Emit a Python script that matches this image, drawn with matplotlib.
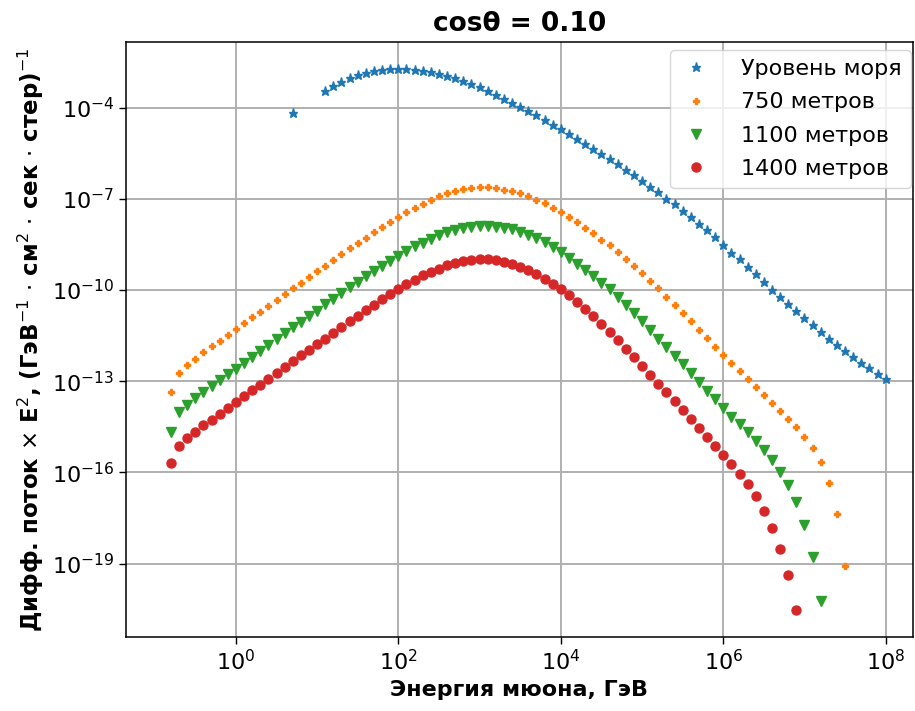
import numpy as np
import matplotlib
matplotlib.use("Agg")
import matplotlib.pyplot as plt
from matplotlib.ticker import NullLocator

# ---- data (log10 of energy in GeV, log10 of differential flux x E^2) ----
labels = ["Уровень моря", "750 метров", "1100 метров", "1400 метров"]

e_log_sea = [0.7,
             1.1, 1.2, 1.3, 1.4, 1.5, 1.6, 1.7, 1.8, 1.9,
             2.0, 2.1, 2.2, 2.3, 2.4, 2.5, 2.6, 2.7, 2.8, 2.9,
             3.0, 3.1, 3.2, 3.3, 3.4, 3.5, 3.6, 3.7, 3.8, 3.9,
             4.0, 4.1, 4.2, 4.3, 4.4, 4.5, 4.6, 4.7, 4.8, 4.9,
             5.0, 5.1, 5.2, 5.3, 5.4, 5.5, 5.6, 5.7, 5.8, 5.9,
             6.0, 6.1, 6.2, 6.3, 6.4, 6.5, 6.6, 6.7, 6.8, 6.9,
             7.0, 7.1, 7.2, 7.3, 7.4, 7.5, 7.6, 7.7, 7.8, 7.9,
             8.0]

e_log_deep = [-0.8, -0.7, -0.6, -0.5, -0.4, -0.3, -0.2, -0.1,
              0.0, 0.1, 0.2, 0.3, 0.4, 0.5, 0.6, 0.7, 0.8, 0.9,
              1.0, 1.1, 1.2, 1.3, 1.4, 1.5, 1.6, 1.7, 1.8, 1.9,
              2.0, 2.1, 2.2, 2.3, 2.4, 2.5, 2.6, 2.7, 2.8, 2.9,
              3.0, 3.1, 3.2, 3.3, 3.4, 3.5, 3.6, 3.7, 3.8, 3.9,
              4.0, 4.1, 4.2, 4.3, 4.4, 4.5, 4.6, 4.7, 4.8, 4.9,
              5.0, 5.1, 5.2, 5.3, 5.4, 5.5, 5.6, 5.7, 5.8, 5.9,
              6.0, 6.1, 6.2, 6.3, 6.4, 6.5, 6.6, 6.7, 6.8, 6.9,
              7.0, 7.1, 7.2, 7.3, 7.4, 7.5]

f_log_sea = [-4.18,
             -3.45, -3.28, -3.16, -3.03, -2.93, -2.86, -2.79, -2.76, -2.73,
             -2.72, -2.73, -2.76, -2.79, -2.84, -2.90, -2.96, -3.04, -3.14, -3.23,
             -3.34, -3.46, -3.58, -3.71, -3.85, -3.98, -4.12, -4.26, -4.41, -4.57,
             -4.71, -4.87, -5.03, -5.19, -5.36, -5.53, -5.69, -5.87, -6.05, -6.23,
             -6.42, -6.61, -6.79, -7.00, -7.18, -7.39, -7.60, -7.83, -8.04, -8.27,
             -8.52, -8.78, -8.99, -9.24, -9.49, -9.74, -9.99, -10.22, -10.46, -10.70,
             -10.93, -11.16, -11.39, -11.61, -11.82, -12.02, -12.21, -12.40, -12.58, -12.77,
             -12.94]

f_log_750 = [-13.36, -12.72, -12.48, -12.27, -12.05, -11.85, -11.67, -11.47,
             -11.27, -11.09, -10.90, -10.71, -10.53, -10.33, -10.13, -9.94, -9.76, -9.57,
             -9.38, -9.20, -9.00, -8.83, -8.63, -8.45, -8.28, -8.10, -7.93, -7.75,
             -7.59, -7.44, -7.29, -7.17, -7.04, -6.91, -6.82, -6.74, -6.69, -6.64,
             -6.62, -6.62, -6.64, -6.70, -6.74, -6.82, -6.92, -7.03, -7.15, -7.29,
             -7.45, -7.60, -7.76, -7.95, -8.13, -8.34, -8.53, -8.74, -8.98, -9.20,
             -9.45, -9.70, -9.94, -10.22, -10.48, -10.76, -11.03, -11.31, -11.59, -11.86,
             -12.14, -12.41, -12.67, -12.94, -13.20, -13.46, -13.71, -13.97, -14.23, -14.50,
             -14.83, -15.19, -15.66, -16.33, -17.37, -19.07]

f_log_1100 = [-14.66, -14.02, -13.78, -13.55, -13.35, -13.16, -12.96, -12.76,
              -12.59, -12.39, -12.20, -12.01, -11.82, -11.62, -11.43, -11.23, -11.05, -10.86,
              -10.68, -10.47, -10.29, -10.11, -9.91, -9.75, -9.55, -9.38, -9.20, -9.06,
              -8.87, -8.73, -8.56, -8.44, -8.32, -8.20, -8.10, -8.03, -7.96, -7.92,
              -7.89, -7.88, -7.92, -7.95, -7.99, -8.08, -8.19, -8.30, -8.43, -8.59,
              -8.76, -8.94, -9.13, -9.33, -9.54, -9.76, -9.98, -10.24, -10.50, -10.76,
              -11.03, -11.32, -11.60, -11.88, -12.16, -12.44, -12.73, -13.03, -13.31, -13.60,
              -13.87, -14.16, -14.42, -14.68, -14.96, -15.27, -15.59, -15.99, -16.41, -16.98,
              -17.72, -18.77, -20.21]

f_log_1400 = [-15.68, -15.14, -14.87, -14.66, -14.45, -14.27, -14.08, -13.88,
              -13.68, -13.50, -13.30, -13.12, -12.93, -12.72, -12.54, -12.34, -12.15, -11.97,
              -11.79, -11.60, -11.41, -11.22, -11.02, -10.85, -10.67, -10.50, -10.31, -10.13,
              -9.98, -9.80, -9.67, -9.52, -9.41, -9.30, -9.19, -9.12, -9.06, -9.01,
              -8.99, -8.99, -9.02, -9.08, -9.14, -9.23, -9.34, -9.47, -9.64, -9.79,
              -9.98, -10.17, -10.38, -10.62, -10.86, -11.12, -11.38, -11.64, -11.93, -12.20,
              -12.49, -12.79, -13.08, -13.37, -13.66, -13.96, -14.24, -14.55, -14.84, -15.12,
              -15.43, -15.72, -16.04, -16.39, -16.78, -17.26, -17.81, -18.52, -19.38, -20.52]

title = "cosθ = 0.10"
xlabel = "Энергия мюона, ГэВ"
ylabel = (r"Дифф. поток $\times$ E$^2$, (ГэВ$^{-1}$ $\cdot$ см$^2$ "
          r"$\cdot$ сек $\cdot$ стер)$^{-1}$")

# ---- plot ----
fig = plt.figure(figsize=(9.15, 7.11), dpi=100)
ax = fig.add_axes([126 / 915, 74 / 711, 787 / 915, 595 / 711])

series = [
    (e_log_sea, f_log_sea, dict(marker="*", color="#1f77b4", ms=6.5)),
    (e_log_deep, f_log_750, dict(marker="P", color="#ff7f0e", ms=5)),
    (e_log_deep, f_log_1100, dict(marker="v", color="#2ca02c", ms=7.5)),
    (e_log_deep, f_log_1400, dict(marker="o", color="#d62728", ms=6.5)),
]
for (ex, fy, style), lab in zip(series, labels):
    n = len(fy)
    x = 10.0 ** np.array(ex[:n])
    y = 10.0 ** np.array(fy)
    ax.plot(x, y, linestyle="none", label=lab, **style)

ax.set_xscale("log")
ax.set_yscale("log")
ax.set_xlim(10 ** -1.353, 10 ** 8.336)
ax.set_ylim(10 ** -21.41, 10 ** -1.845)
ax.set_xticks([1e0, 1e2, 1e4, 1e6, 1e8])
ax.set_yticks([1e-19, 1e-16, 1e-13, 1e-10, 1e-7, 1e-4])
ax.xaxis.set_minor_locator(NullLocator())
ax.yaxis.set_minor_locator(NullLocator())

ax.grid(True, color="#b0b0b0", linewidth=1.4)
ax.set_axisbelow(True)
ax.tick_params(labelsize=16, width=1.0, length=5)
for s in ax.spines.values():
    s.set_linewidth(1.1)

ax.set_title(title, fontsize=19, fontweight="bold", pad=8)
ax.set_xlabel(xlabel, fontsize=16, fontweight="bold")
ax.set_ylabel(ylabel, fontsize=16.5, fontweight="bold", labelpad=4)
ax.legend(loc="upper right", bbox_to_anchor=(1.0, 0.99), fontsize=16,
          framealpha=0.8, borderaxespad=0.1, labelspacing=0.6,
          handlelength=1.55, handletextpad=1.25)

fig.savefig("out.png", dpi=100)
